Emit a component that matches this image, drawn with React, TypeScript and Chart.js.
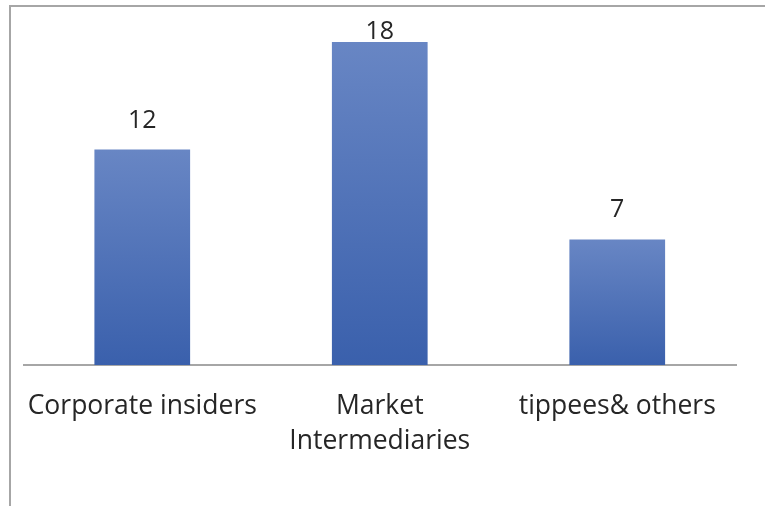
import React, { useEffect, useRef } from "react";
import { Chart, registerables } from "chart.js";

Chart.register(...registerables);

const categories: (string | string[])[] = ["Corporate insiders", ["Market", "Intermediaries"], "tippees& others"];
const values: number[] = [12, 18, 7];

const FONT = "'Open Sans', 'Noto Sans', sans-serif";
const TEXT = "#262626";

const framePlugin = {
  id: "frame",
  beforeDraw(chart: any) {
    const { ctx, width, height } = chart;
    ctx.save();
    ctx.fillStyle = "#ffffff";
    ctx.fillRect(0, 0, width, height);
    ctx.strokeStyle = "#a6a6a6";
    ctx.lineWidth = 2;
    ctx.beginPath();
    ctx.moveTo(10, height);
    ctx.lineTo(10, 6);
    ctx.lineTo(width, 6);
    ctx.stroke();
    ctx.restore();
  },
};

const labelPlugin = {
  id: "valueLabels",
  afterDatasetsDraw(chart: any) {
    const { ctx } = chart;
    const meta = chart.getDatasetMeta(0);
    ctx.save();
    ctx.font = `25px ${FONT}`;
    ctx.fillStyle = TEXT;
    ctx.textAlign = "center";
    ctx.textBaseline = "alphabetic";
    meta.data.forEach((bar: any, i: number) => {
      const y = Math.max(bar.y - 22, 39);
      ctx.fillText(String(values[i]), bar.x, y);
    });
    ctx.restore();
  },
};

export default function App() {
  const ref = useRef<HTMLCanvasElement>(null);
  useEffect(() => {
    document.body.style.margin = "0";
    const canvas = ref.current!;
    const chart = new Chart(canvas, {
      type: "bar",
      data: {
        labels: categories,
        datasets: [
          {
            data: values,
            backgroundColor: (c: any) => {
              const chart = c.chart;
              const ys = chart.scales?.y;
              if (!ys || c.raw == null) return "#4a6fb8";
              const top = ys.getPixelForValue(c.raw);
              const base = ys.getPixelForValue(0);
              if (!isFinite(top) || !isFinite(base) || top === base) return "#4a6fb8";
              const g = chart.ctx.createLinearGradient(0, top, 0, base);
              g.addColorStop(0, "#6886c4");
              g.addColorStop(1, "#3a60ac");
              return g;
            },
            barPercentage: 0.403,
            categoryPercentage: 1,
          },
        ],
      },
      options: {
        animation: false,
        responsive: false,
        maintainAspectRatio: false,
        layout: { padding: { left: 22, right: 29, top: 6, bottom: 23 } },
        plugins: { legend: { display: false }, tooltip: { enabled: false } },
        scales: {
          x: {
            grid: { display: false, drawTicks: false },
            border: { display: true, color: "#a6a6a6", width: 2 },
            ticks: {
              color: TEXT,
              font: { family: FONT, size: 26.5, lineHeight: 1.32 },
              padding: 24,
              maxRotation: 0,
              autoSkip: false,
            },
          },
          y: { display: false, min: 0, max: 20 },
        },
      },
      plugins: [framePlugin, labelPlugin],
    });
    return () => chart.destroy();
  }, []);
  return (
    <div style={{ position: "fixed", left: 0, top: 0, width: 765, height: 506 }}>
      <canvas ref={ref} width={765} height={506} style={{ width: 765, height: 506, display: "block" }} />
    </div>
  );
}
